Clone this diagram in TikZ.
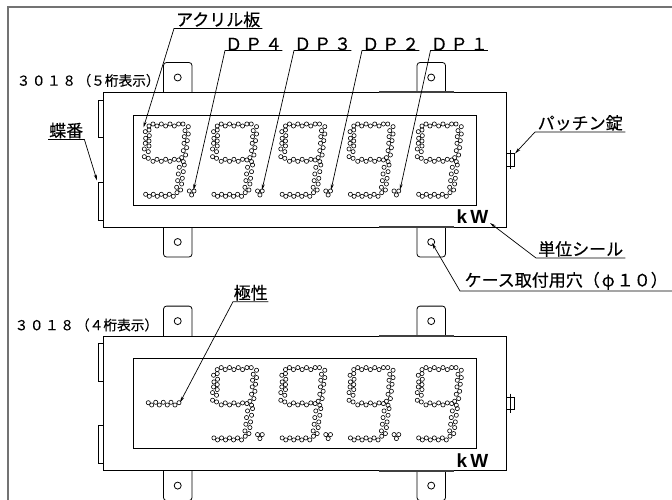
\documentclass[tikz,border=0pt]{standalone}
\usepackage{fontspec}
\newfontfamily\jp[BoldFont={Noto Sans CJK JP},BoldFeatures={FakeBold=0.25}]{Noto Sans CJK JP}
\setmainfont{Liberation Sans}
\usetikzlibrary{arrows.meta}
\tikzset{
  part/.style={draw=black,line width=.8pt,fill=white},
  band/.style={draw=black!75,line width=1.6pt},
  leader/.style={draw=black,line width=.7pt},
  arrowed/.style={leader,-{Stealth[length=6pt,width=3pt]}},
  lab/.style={inner xsep=0pt,inner ysep=1pt,anchor=south west,font=\jp\bfseries\fontsize{17}{17}\selectfont},
  dp/.style={inner xsep=0pt,inner ysep=0pt,anchor=south west,font=\jp\bfseries\fontsize{17}{17}\selectfont},
  model/.style={inner sep=0pt,anchor=west,font=\jp\bfseries\fontsize{13.7}{14}\selectfont},
  unit/.style={inner sep=0pt,anchor=center,font=\bfseries\fontsize{19}{19}\selectfont},
  dotc/.style={draw=black,line width=.6pt}
}
\newcommand\DotsNine{%
  \foreach \p in {(447,378),(459,372),(471,378),(484,372),(497,378),(510,372),(523,378),(536,372),(549,372),(565,380),
    (447,390),(436,395),(448,407),(437,415),(447,423),(436,430),(447,438),(433,447),(445,455),(433,470),(445,475),
    (459,484),(471,478),(484,484),(497,478),(510,484),(523,478),(536,480),
    (555,392),(565,402),(553,410),(562,422),(552,430),(560,443),(550,452),(557,465),(545,473),(550,485),
    (553,495),(538,502),(550,515),(535,522),(547,535),(533,542),(545,552),(530,562),(542,570),
    (437,583),(448,589),(460,583),(472,589),(484,583),(496,589),(508,583),(520,589),(531,578)}
    {\draw[dotc] \p circle[radius=2.1pt];}%
}
\newcommand\DotsPoint{%
  \foreach \p in {(568,573),(582,573),(575,585)}{\draw[dotc] \p circle[radius=2.1pt];}%
}
\newcommand\PanelParts[1]{%
  \begin{scope}[shift={(0,#1)}]
    \foreach \ex in {163.5,417}{
      \draw[part,rounded corners=3pt] (\ex,92.5) -- (\ex,62.5) -- ({\ex+28.5},62.5) -- ({\ex+28.5},92.5);
      \draw[part,rounded corners=3pt] (\ex,227) -- (\ex,257) -- ({\ex+28.5},257) -- ({\ex+28.5},227);
      \draw[part] ({\ex+14.2},77.5) circle[radius=3.5pt];
      \draw[part] ({\ex+14.2},242) circle[radius=3.5pt];
    }
    \draw[part] (98.5,100) rectangle (103.5,137.5);
    \draw[part] (98.5,182) rectangle (103.5,220);
    \draw[part] (510.3,150) -- (510.3,169);
    \draw[part,fill=none] (506,153.5) rectangle (514,166);
    \draw[part] (103.5,92.5) rectangle (506,227);
    \draw[part] (133.5,115) rectangle (476.5,205);
    \draw[band] (379,92.3) -- (454,92.3);
    \draw[band] (379,227.2) -- (454,227.2);
  \end{scope}%
}
\begin{document}
\begin{tikzpicture}[x=1pt,y=-1pt]
\useasboundingbox (0,0) rectangle (672,500);
\clip (0,0) rectangle (672,500);
\fill[white] (0,0) rectangle (672,500);
\draw[draw=black!55,line width=2pt] (7.5,7.5) rectangle (690,520);

\PanelParts{0}
\PanelParts{243.6}

% digits, upper panel
\foreach \d in {0,1,2,3,4}{
  \begin{scope}[shift={({\d*68.25},0)},x=.3333pt,y=-.3333pt]
    \DotsNine
    \ifnum\d<4 \DotsPoint\fi
  \end{scope}
}
% digits, lower panel
\foreach \d in {1,2,3,4}{
  \begin{scope}[shift={({\d*68.25},243.6)},x=.3333pt,y=-.3333pt]
    \DotsNine
    \ifnum\d<4 \DotsPoint\fi
  \end{scope}
}
% polarity
\foreach \p in {(148.3,402.7),(151.7,405),(155.7,402.3),(159.3,405),(163.3,402.3),(167.3,405),(171,402.3),(175,405),(179,402.7)}
  {\draw[dotc] \p circle[radius=2.1pt];}

% model labels
\node[model] (m1) at (16.5,80.5) {３\hspace{1.5pt}０\hspace{1.5pt}１\hspace{1.5pt}８\hspace{1.5pt}（５桁表示）};
\node[model] (m2) at (14.5,325) {３\hspace{1.5pt}０\hspace{1.5pt}１\hspace{1.5pt}８\hspace{2pt}（４桁表示）};

% unit seals
\node[unit] (kw1) at (472.5,217) {k\,W};
\node[unit] (kw2) at (472.5,460.5) {k\,W};

% targets
\coordinate (tAcr) at (143.5,127.5);
\coordinate (tD4) at (193.5,190);
\coordinate (tD3) at (262,190);
\coordinate (tD2) at (331,190);
\coordinate (tD1) at (400,190);
\coordinate (tHinge) at (97,180.5);
\coordinate (tLatch) at (515,153.5);
\coordinate (tSeal) at (490,223);
\coordinate (tHole) at (432,243);
\coordinate (tPol) at (180,402.5);

% labelled leaders
\node[lab,minimum width=88pt] (acr) at (174,28.5) {アクリル板};
\draw[arrowed] (acr.south east) -- (acr.south west) -- (tAcr);
\node[dp,minimum width=53pt] (d4) at (225,50.5) {Ｄ\hspace{3pt}Ｐ\hspace{3pt}４};
\draw[arrowed] (d4.south east) -- (d4.south west) -- (tD4);
\node[dp,minimum width=53pt] (d3) at (294,50.5) {Ｄ\hspace{3pt}Ｐ\hspace{3pt}３};
\draw[arrowed] (d3.south east) -- (d3.south west) -- (tD3);
\node[dp,minimum width=53pt] (d2) at (362,50.5) {Ｄ\hspace{3pt}Ｐ\hspace{3pt}２};
\draw[arrowed] (d2.south east) -- (d2.south west) -- (tD2);
\node[dp,minimum width=53pt] (d1) at (430.5,50.5) {Ｄ\hspace{3pt}Ｐ\hspace{3pt}１};
\draw[arrowed] (d1.south east) -- (d1.south west) -- (tD1);
\node[lab,minimum width=36pt] (hinge) at (48,139.5) {蝶番};
\draw[arrowed] (hinge.south west) -- (hinge.south east) -- (tHinge);
\node[lab,minimum width=90pt] (latch) at (535,132) {パッチン錠};
\draw[arrowed] (latch.south east) -- (latch.south west) -- (tLatch);
\node[lab,minimum width=89pt] (seal) at (536,258) {単位シール};
\draw[arrowed] (seal.south east) -- (seal.south west) -- (tSeal);
\node[lab,minimum width=212pt] (hole) at (460,291) {ケース取付用穴（\makebox[17pt]{φ}１０）};
\draw[arrowed] (hole.south east) -- (hole.south west) -- (tHole);
\node[lab,minimum width=35pt] (pol) at (233,301.7) {極性};
\draw[arrowed] (pol.south east) -- (pol.south west) -- (tPol);
\end{tikzpicture}
\end{document}
